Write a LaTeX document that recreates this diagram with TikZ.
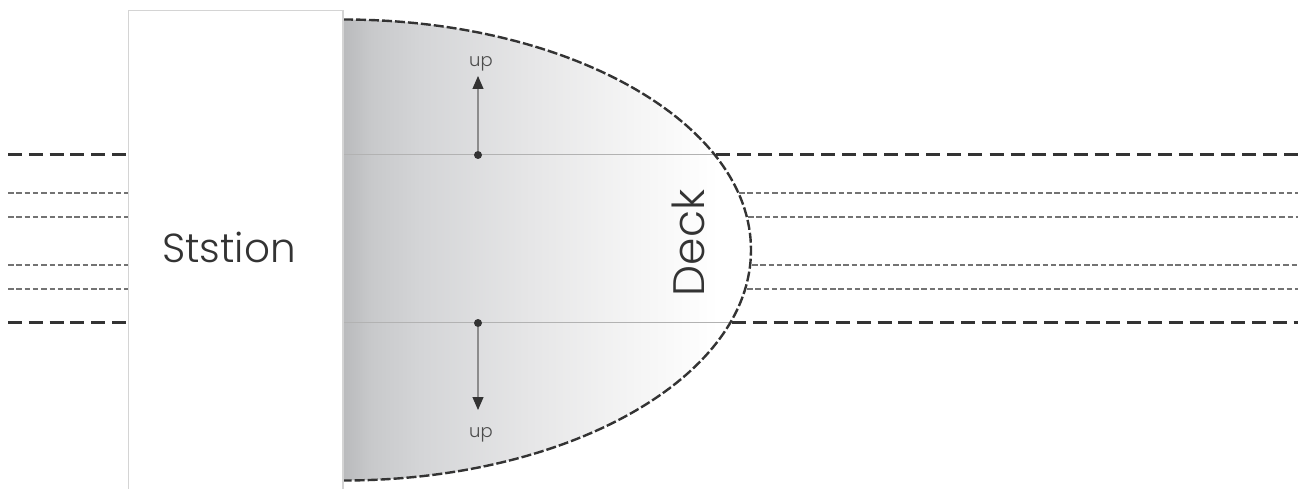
\documentclass[tikz,border=0pt]{standalone}
\usepackage{fontspec}
\setmainfont{Poppins Light}
\usetikzlibrary{arrows.meta}
\definecolor{ink}{HTML}{333333}
\definecolor{sa}{HTML}{B9BABC}
\definecolor{sb}{HTML}{C8C9CB}
\definecolor{sc}{HTML}{D4D5D7}
\definecolor{sd}{HTML}{E6E6E7}
\definecolor{se}{HTML}{F5F5F5}
\pgfdeclarehorizontalshading{deckfade}{100bp}{
  color(0bp)=(sa);
  color(25bp)=(sa);
  color(28.5bp)=(sb);
  color(34.5bp)=(sc);
  color(48bp)=(sd);
  color(61bp)=(se);
  color(71bp)=(white);
  color(100bp)=(white)}
\tikzset{
  x=1pt,y=-1pt,
  heavy/.style={draw=ink,line width=3pt,dash pattern=on 14pt off 6.8pt},
  fine/.style={draw=black!55,line width=1.3pt,dash pattern=on 5.5pt off 2.8pt},
  hair/.style={draw=black!30,line width=1pt},
  stem/.style={draw=black!45,line width=1.1pt,-{Triangle[width=11pt,length=13pt,color=ink]}},
  pin/.style={circle,fill=ink,inner sep=0pt,minimum size=8pt},
  small/.style={font=\fontsize{18}{20}\selectfont,text=black!70,inner sep=0pt},
  big/.style={font=\fontsize{40.5}{46}\selectfont,text=black!80,inner sep=0pt},
  bigger/.style={font=\fontsize{44}{48}\selectfont,text=black!80,inner sep=0pt}
}
\begin{document}
\begin{tikzpicture}
\useasboundingbox (0,0) rectangle (1311,489);
\fill[white] (0,0) rectangle (1311,489);
% deck
\begin{scope}
  \clip (343,19.5) arc[start angle=90,end angle=-90,x radius=408,y radius=-230.5] -- cycle;
  \shade[shading=deckfade,shading angle=0] (343,0) rectangle (751,489);
\end{scope}
\coordinate (dA) at (343,155);
\coordinate (dB) at (343,322);
\coordinate (eA) at (715,155);
\coordinate (eB) at (730,322);
\draw[hair] (dA) -- (eA);
\draw[hair] (dB) -- (eB);
\draw[draw=ink,line width=2.4pt,dash pattern=on 10pt off 3pt] (343,19.5) arc[start angle=90,end angle=-90,x radius=408,y radius=-230.5];
% station
\draw[draw=black!17,line width=1.2pt] (128.5,489) |- (343,10.5) -- (343,489);
\node[big] (station) at (229,247) {Ststion};
\node[bigger,rotate=90] (deck) at (688,243) {Deck};
% arrows
\node[pin] (p1) at (478,155) {};
\node[pin] (p2) at (478,323) {};
\node[small] (u1) at (481,64) {up};
\node[small] (u2) at (481,435) {up};
\coordinate (t1) at (478,76);
\coordinate (t2) at (478,410);
\draw[stem] (p1) -- (t1);
\draw[stem] (p2) -- (t2);
% left lanes
\foreach \n/\yy in {a/155,b/322}{
  \coordinate (l\n) at (8,\yy); \coordinate (m\n) at (126,\yy);
  \draw[heavy] (l\n) -- (m\n);}
\foreach \n/\yy in {c/193,d/217,e/265,f/289}{
  \coordinate (l\n) at (8,\yy); \coordinate (m\n) at (128,\yy);
  \draw[fine] (l\n) -- (m\n);}
% right lanes
\foreach \n/\xx/\yy/\gp in {a/716/155/7.04,b/732/322/6.8}{
  \coordinate (r\n) at (\xx,\yy); \coordinate (s\n) at (1298,\yy);
  \draw[heavy,dash pattern=on 14pt off \gp pt] (r\n) -- (s\n);}
\foreach \n/\xx/\yy in {c/739/193,d/748/217,e/752/265,f/747/289}{
  \coordinate (r\n) at (\xx,\yy); \coordinate (s\n) at (1298,\yy);
  \draw[fine] (r\n) -- (s\n);}
\end{tikzpicture}
\end{document}
